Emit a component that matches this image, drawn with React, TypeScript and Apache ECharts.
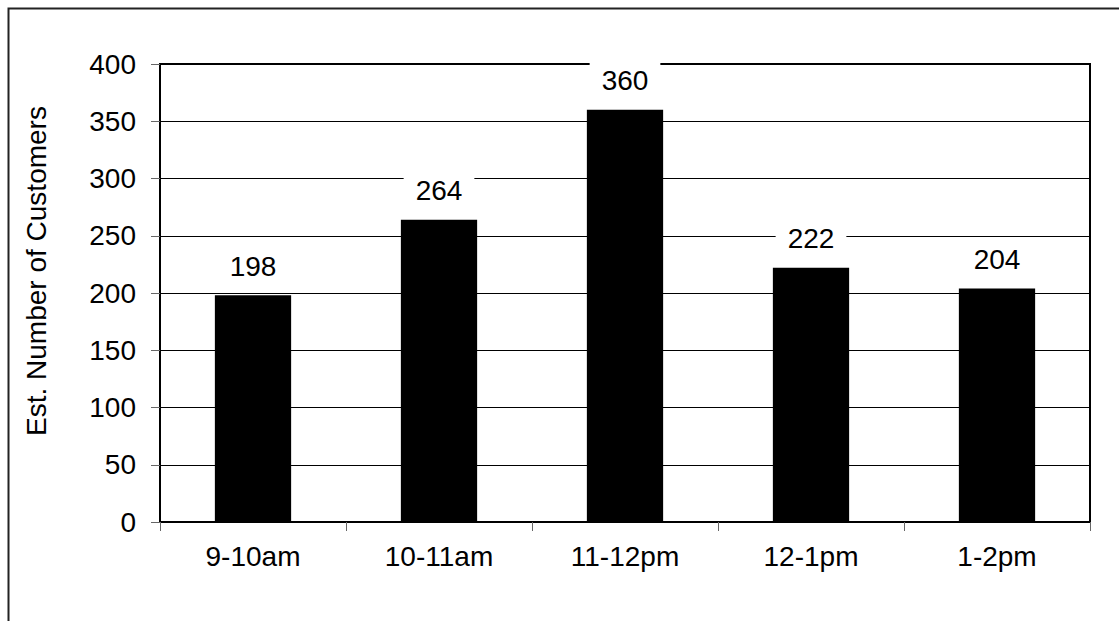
import React, { useEffect, useRef } from "react";
import * as echarts from "echarts";

const categories = ["9-10am", "10-11am", "11-12pm", "12-1pm", "1-2pm"];
const customers = [198, 264, 360, 222, 204];
const yAxisTitle = "Est. Number of Customers";
const yMin = 0;
const yMax = 400;
const yStep = 50;

const FONT = "'Liberation Sans', Arial, sans-serif";

export default function App() {
  const ref = useRef<HTMLDivElement>(null);

  useEffect(() => {
    if (!ref.current) return;
    const chart = echarts.init(ref.current, undefined, { renderer: "svg" });
    chart.setOption({
      animation: false,
      backgroundColor: "#fff",
      textStyle: { fontFamily: FONT },
      grid: {
        left: 160,
        top: 64,
        right: 29,
        bottom: 99,
        show: true,
        borderColor: "#000",
        borderWidth: 2,
        backgroundColor: "transparent",
      },
      graphic: [
        {
          type: "rect",
          left: 6,
          top: 6,
          shape: { x: 0, y: 0, width: 1300, height: 800 },
          style: { fill: "none", stroke: "#222", lineWidth: 2 },
          silent: true,
          z: 100,
        },
      ],
      xAxis: {
        type: "category",
        data: categories,
        boundaryGap: true,
        axisLine: { show: true, lineStyle: { color: "#000", width: 2 } },
        axisTick: { show: true, length: 9, lineStyle: { color: "#666", width: 1 } },
        axisLabel: { color: "#000", fontSize: 28, fontFamily: FONT, margin: 20 },
        splitLine: { show: false },
      },
      yAxis: {
        type: "value",
        min: yMin,
        max: yMax,
        interval: yStep,
        name: yAxisTitle,
        nameLocation: "middle",
        nameGap: 110,
        nameRotate: 90,
        nameTextStyle: {
          color: "#000",
          fontSize: 28,
          fontFamily: FONT,
          padding: [0, 0, 0, 44],
        },
        axisLine: { show: true, lineStyle: { color: "#000", width: 2 } },
        axisTick: { show: true, length: 9, lineStyle: { color: "#666", width: 1 } },
        axisLabel: { color: "#000", fontSize: 28, fontFamily: FONT, margin: 24 },
        splitLine: { show: true, lineStyle: { color: "#000", width: 1 } },
      },
      series: [
        {
          type: "bar",
          data: customers,
          barWidth: "41%",
          itemStyle: { color: "#000" },
          label: {
            show: true,
            position: "top",
            distance: 9,
            color: "#000",
            fontSize: 28,
            fontFamily: FONT,
            backgroundColor: "#fff",
            padding: [6, 12],
          },
        },
      ],
    });
    return () => chart.dispose();
  }, []);

  return (
    <div
      ref={ref}
      style={{ position: "fixed", left: 0, top: 0, width: 1119, height: 621, background: "#fff" }}
    />
  );
}
